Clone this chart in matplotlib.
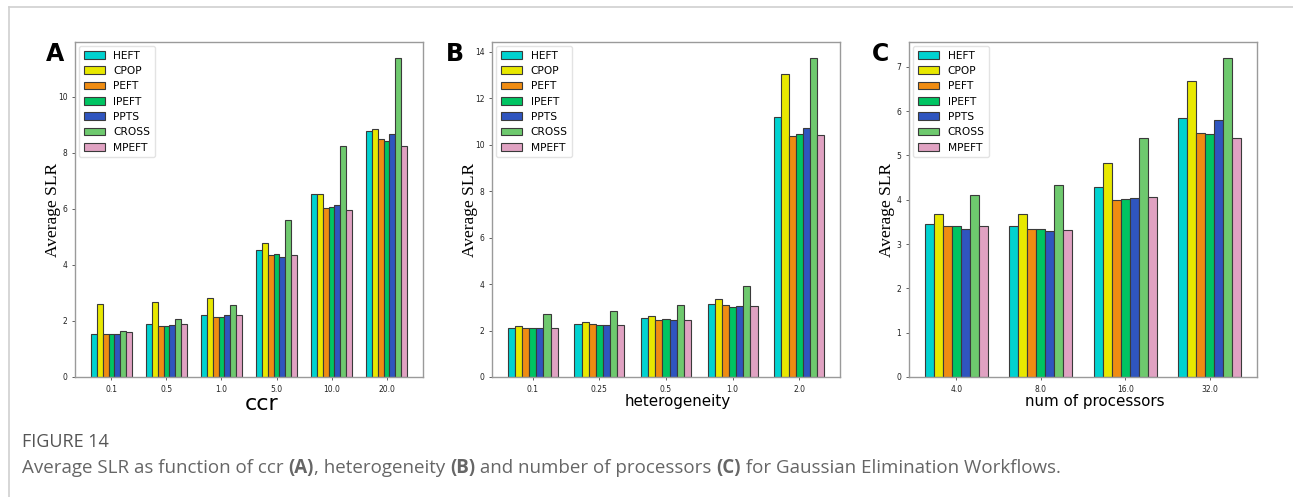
import numpy as np
import matplotlib
matplotlib.use("Agg")
import matplotlib.pyplot as plt
from matplotlib.lines import Line2D

# === Data
methods = ["HEFT", "CPOP", "PEFT", "IPEFT", "PPTS", "CROSS", "MPEFT"]
colors = ["#00d2d0", "#e8e800", "#ef8c12", "#00c462", "#2f55bf", "#6ec96e", "#e0a2c2"]

ccr_labels = ["0.1", "0.5", "1.0", "5.0", "10.0", "20.0"]
ccr_heft = [1.54, 1.88, 2.23, 4.52, 6.53, 8.78]
ccr_cpop = [2.60, 2.68, 2.83, 4.77, 6.54, 8.86]
ccr_peft = [1.54, 1.82, 2.15, 4.35, 6.03, 8.49]
ccr_ipeft = [1.54, 1.82, 2.15, 4.38, 6.08, 8.41]
ccr_ppts = [1.54, 1.85, 2.20, 4.30, 6.15, 8.68]
ccr_cross = [1.65, 2.08, 2.57, 5.59, 8.25, 11.39]
ccr_mpeft = [1.60, 1.88, 2.23, 4.37, 5.96, 8.25]

het_labels = ["0.1", "0.25", "0.5", "1.0", "2.0"]
het_heft = [2.13, 2.26, 2.52, 3.16, 11.17]
het_cpop = [2.20, 2.36, 2.62, 3.34, 13.05]
het_peft = [2.12, 2.26, 2.46, 3.09, 10.39]
het_ipeft = [2.12, 2.25, 2.49, 3.02, 10.44]
het_ppts = [2.10, 2.25, 2.45, 3.06, 10.72]
het_cross = [2.71, 2.85, 3.11, 3.91, 13.73]
het_mpeft = [2.09, 2.25, 2.45, 3.05, 10.42]

proc_labels = ["4.0", "8.0", "16.0", "32.0"]
proc_heft = [3.45, 3.41, 4.28, 5.85]
proc_cpop = [3.67, 3.67, 4.82, 6.69]
proc_peft = [3.40, 3.34, 3.99, 5.51]
proc_ipeft = [3.41, 3.34, 4.02, 5.48]
proc_ppts = [3.34, 3.29, 4.03, 5.79]
proc_cross = [4.10, 4.34, 5.39, 7.20]
proc_mpeft = [3.41, 3.32, 4.06, 5.40]

panels = [
    ("A", "ccr", 16, ccr_labels,
     [ccr_heft, ccr_cpop, ccr_peft, ccr_ipeft, ccr_ppts, ccr_cross, ccr_mpeft]),
    ("B", "heterogeneity", 10.9, het_labels,
     [het_heft, het_cpop, het_peft, het_ipeft, het_ppts, het_cross, het_mpeft]),
    ("C", "num of processors", 10.9, proc_labels,
     [proc_heft, proc_cpop, proc_peft, proc_ipeft, proc_ppts, proc_cross, proc_mpeft]),
]

W, H = 1293, 497
fig = plt.figure(figsize=(W / 100, H / 100), dpi=100)

axes_left = [75, 492, 909]
letter_x = [55, 455, 880]
ax_w, ax_top, ax_bot = 348, 42, 377
bar_w = 0.75 / 7

for (letter, xlabel, xl_size, labels, series), left, lx in zip(panels, axes_left, letter_x):
    ax = fig.add_axes([left / W, 1 - ax_bot / H, ax_w / W, (ax_bot - ax_top) / H])
    x = np.arange(len(labels))
    for i, (name, vals, c) in enumerate(zip(methods, series, colors)):
        ax.bar(x + (i - 3) * bar_w, vals, bar_w, color=c, edgecolor="#3a3a3a",
               linewidth=0.8, label=name)
    ax.set_xticks(x)
    ax.set_xticklabels(labels)
    ax.tick_params(labelsize=5.5, length=2, width=0.5, colors="#222222")
    for sp in ax.spines.values():
        sp.set_color("#9a9a9a")
        sp.set_linewidth(1.0)
    ax.set_ylabel("Average SLR", family="Liberation Serif", fontsize=12.5)
    ax.yaxis.set_label_coords(-0.04, 0.5)
    ax.set_xlabel(xlabel, fontsize=xl_size)
    ax.xaxis.set_label_coords(0.535, -0.05)
    ax.legend(loc="upper left", fontsize=7.7, frameon=True, edgecolor="#dddddd",
              fancybox=True, borderaxespad=0.4)
    fig.text(lx / W, 1 - 54 / H, letter, fontsize=17, fontweight="bold",
             ha="center", va="center")

# thin page frame lines
fig.add_artist(Line2D([9 / W, 1], [1 - 7 / H, 1 - 7 / H], color="#d0d0d0", lw=1.2))
fig.add_artist(Line2D([9 / W, 9 / W], [0, 1 - 7 / H], color="#d0d0d0", lw=1.2))

# caption
cap_font = "Open Sans"
fig.text(22 / W, 1 - 442 / H, "FIGURE 14", fontsize=13, color="#555555",
         family=cap_font, va="center")

pieces = [
    ("Average SLR as function of ccr ", "normal"),
    ("(A)", "bold"),
    (", heterogeneity ", "normal"),
    ("(B)", "bold"),
    (" and number of processors ", "normal"),
    ("(C)", "bold"),
    (" for Gaussian Elimination Workflows.", "normal"),
]
fig.canvas.draw()
renderer = fig.canvas.get_renderer()
xpos = 22
for txt, wt in pieces:
    t = fig.text(xpos / W, 1 - 468 / H, txt, fontsize=13.5, color="#666666",
                 family=cap_font, fontweight=wt, va="center")
    bb = t.get_window_extent(renderer=renderer)
    xpos += bb.width

fig.savefig("out.png", dpi=100)
